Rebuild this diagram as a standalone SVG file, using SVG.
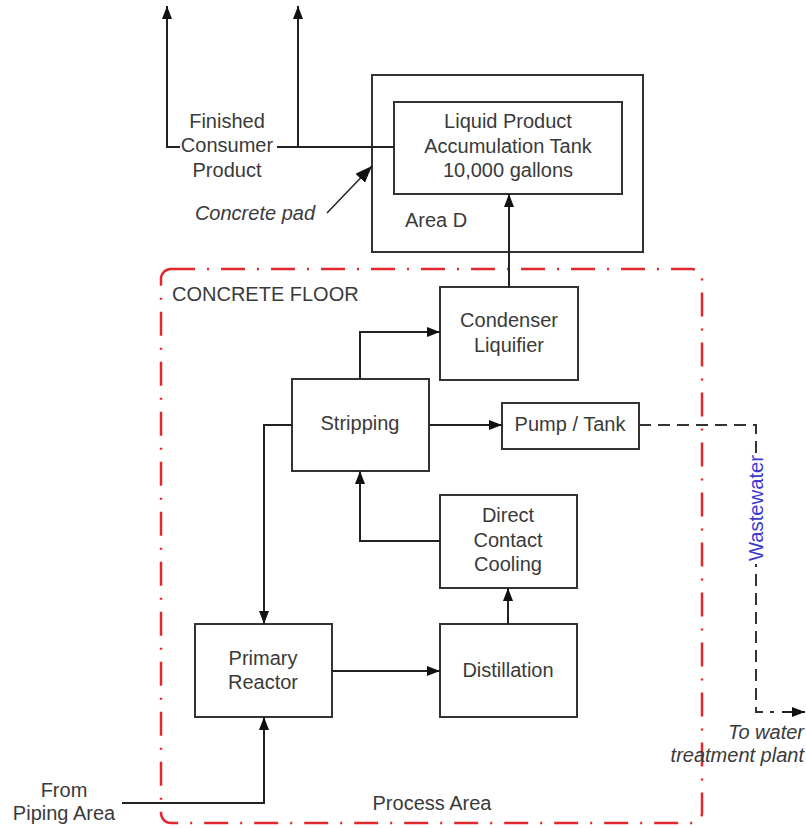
<svg xmlns="http://www.w3.org/2000/svg" width="806" height="828" viewBox="0 0 806 828">
<style>
.box{fill:none;stroke:#333;stroke-width:2}
.t{font-family:"Liberation Sans",Arial,sans-serif;font-size:20px;fill:#3a3a3a;text-anchor:middle}
.ti{font-family:"Liberation Sans",Arial,sans-serif;font-size:20px;fill:#3a3a3a;font-style:italic}
.c{fill:none;stroke:#222;stroke-width:2}
.dash{fill:none;stroke:#333;stroke-width:2;stroke-dasharray:12 7}
</style>
<defs>
<marker id="ah" markerUnits="userSpaceOnUse" markerWidth="13" markerHeight="10" refX="13" refY="5" orient="auto">
<path d="M0,0 L13,5 L0,10 z" fill="#111"/>
</marker>
<marker id="ahb" markerUnits="userSpaceOnUse" markerWidth="17" markerHeight="13" refX="17" refY="6.5" orient="auto">
<path d="M0,0 L17,6.5 L0,13 z" fill="#111"/>
</marker>
</defs>
<rect width="806" height="828" fill="#fff"/>

<g id="concrete-floor">
<rect x="161" y="269" width="541" height="554" rx="10" fill="none" stroke="#e0282d" stroke-width="2.5" stroke-dasharray="24 12 2 12"/>
<text class="t" x="172" y="301" style="text-anchor:start">CONCRETE FLOOR</text>
<text class="t" x="432" y="810">Process Area</text>
</g>

<g id="area-d">
<rect class="box" x="372" y="75" width="271" height="177"/>
<text class="t" x="405" y="227" style="text-anchor:start">Area D</text>
</g>

<g id="tank">
<rect class="box" x="394" y="102" width="228" height="92"/>
<text class="t" x="508" y="128">Liquid Product</text>
<text class="t" x="508" y="153">Accumulation Tank</text>
<text class="t" x="508" y="177">10,000 gallons</text>
</g>

<g id="condenser">
<rect class="box" x="440" y="287" width="138" height="93"/>
<text class="t" x="509" y="327">Condenser</text>
<text class="t" x="509" y="352">Liquifier</text>
</g>

<g id="stripping">
<rect class="box" x="292" y="379" width="137" height="92"/>
<text class="t" x="360" y="430">Stripping</text>
</g>

<g id="pump-tank">
<rect class="box" x="502" y="403" width="137" height="46"/>
<text class="t" x="570" y="431">Pump / Tank</text>
</g>

<g id="direct-contact-cooling">
<rect class="box" x="440" y="495" width="137" height="93"/>
<text class="t" x="508" y="522">Direct</text>
<text class="t" x="508" y="547">Contact</text>
<text class="t" x="508" y="571">Cooling</text>
</g>

<g id="primary-reactor">
<rect class="box" x="195" y="624" width="137" height="93"/>
<text class="t" x="263" y="665">Primary</text>
<text class="t" x="263" y="689">Reactor</text>
</g>

<g id="distillation">
<rect class="box" x="440" y="624" width="137" height="93"/>
<text class="t" x="508" y="677">Distillation</text>
</g>

<g id="finished-product">
<text class="t" x="227" y="128">Finished</text>
<text class="t" x="227" y="152">Consumer</text>
<text class="t" x="227" y="177">Product</text>
</g>

<g id="concrete-pad-label">
<text class="ti" x="315" y="220" style="text-anchor:end">Concrete pad</text>
</g>

<g id="piping-area">
<text class="t" x="64" y="797">From</text>
<text class="t" x="64" y="820">Piping Area</text>
</g>

<g id="water-treatment">
<text class="ti" x="804" y="739" style="text-anchor:end">To water</text>
<text class="ti" x="804" y="762" style="text-anchor:end">treatment plant</text>
</g>

<g id="connectors">
<path class="c" d="M509,287 V194" marker-end="url(#ah)"/>
<path class="c" d="M360,379 V332 H440" marker-end="url(#ah)"/>
<path class="c" d="M429,425 H502" marker-end="url(#ah)"/>
<path class="c" d="M292,425 H264 V624" marker-end="url(#ah)"/>
<path class="c" d="M440,541 H360 V471" marker-end="url(#ah)"/>
<path class="c" d="M508,624 V588" marker-end="url(#ah)"/>
<path class="c" d="M332,671 H440" marker-end="url(#ah)"/>
<path class="c" d="M122,803 H264 V717" marker-end="url(#ah)"/>
<path class="c" d="M394,147 H277"/>
<path class="c" d="M180,147 H167 V6" marker-end="url(#ah)"/>
<path class="c" d="M298,147 V6" marker-end="url(#ah)"/>
<path d="M327,213 L372,166" fill="none" stroke="#222" stroke-width="1.5" marker-end="url(#ahb)"/>
<path class="dash" d="M639,425 H756 V712 H774"/>
<path class="c" d="M782,712 H805" marker-end="url(#ah)"/>
<rect x="746" y="454" width="20" height="110" fill="#fff"/>
<text transform="translate(756,508) rotate(-90)" x="0" y="7" textLength="106" lengthAdjust="spacingAndGlyphs" style="font-family:'Liberation Sans',Arial,sans-serif;font-size:20px;fill:#3b3bcc;text-anchor:middle">Wastewater</text>
</g>
</svg>
